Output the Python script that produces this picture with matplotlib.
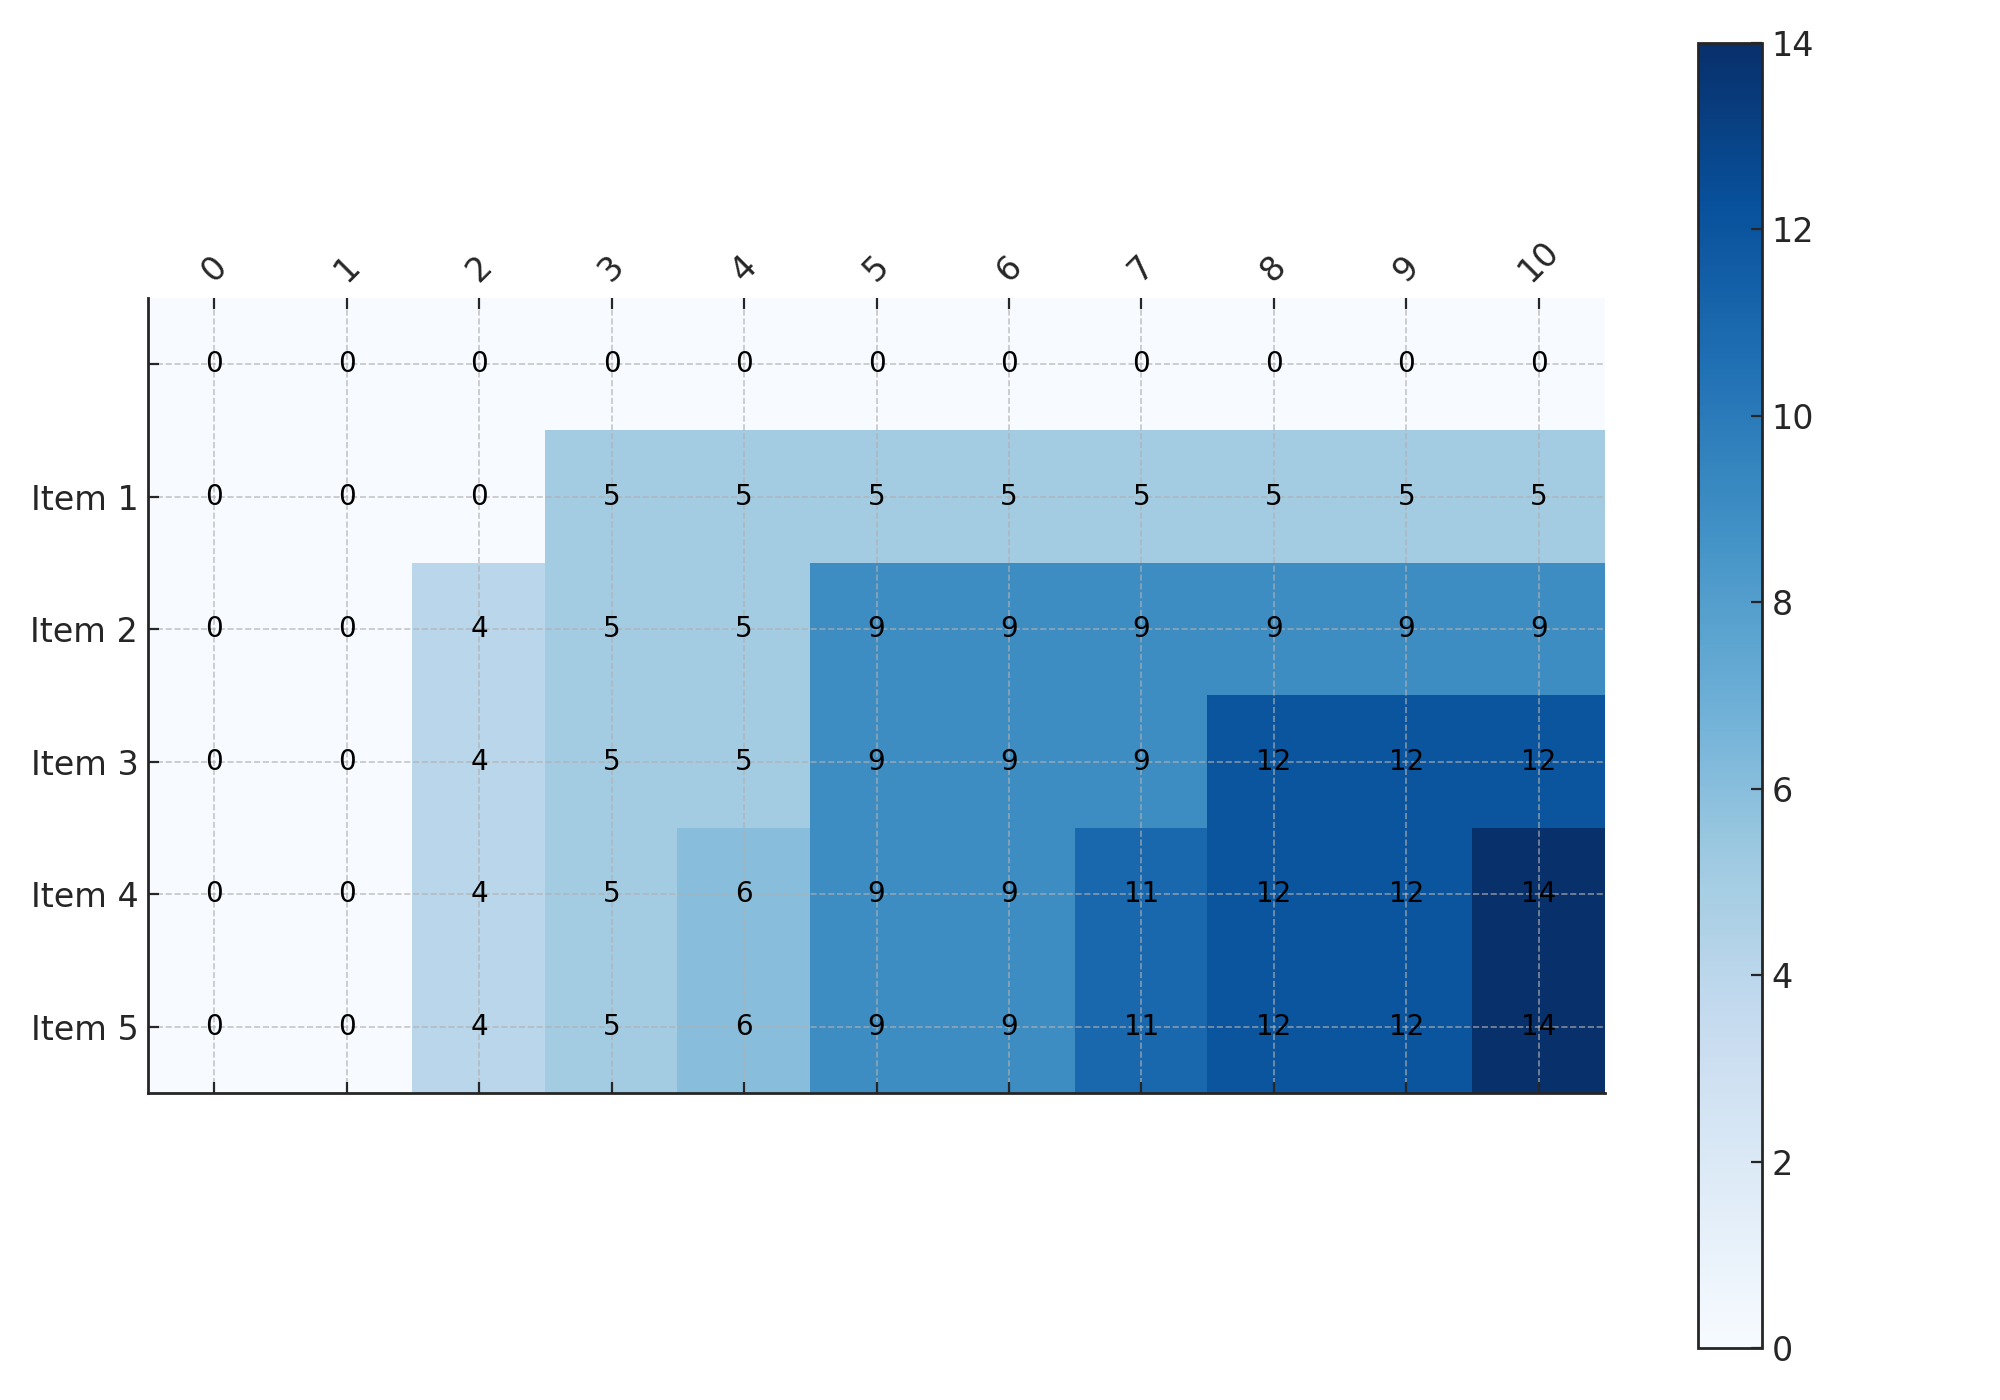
import numpy as np
import matplotlib
matplotlib.use("Agg")
import matplotlib.pyplot as plt

capacities = list(range(11))
row_labels = ["", "Item 1", "Item 2", "Item 3", "Item 4", "Item 5"]
row0 = [0, 0, 0, 0, 0, 0, 0, 0, 0, 0, 0]
row1 = [0, 0, 0, 5, 5, 5, 5, 5, 5, 5, 5]
row2 = [0, 0, 4, 5, 5, 9, 9, 9, 9, 9, 9]
row3 = [0, 0, 4, 5, 5, 9, 9, 9, 12, 12, 12]
row4 = [0, 0, 4, 5, 6, 9, 9, 11, 12, 12, 14]
row5 = [0, 0, 4, 5, 6, 9, 9, 11, 12, 12, 14]

table = np.array([row0, row1, row2, row3, row4, row5])

plt.rcParams['font.family'] = ['DejaVu Sans']
text_color = '#262626'

fig = plt.figure(figsize=(10, 7), dpi=200)
W, H = 2000, 1400
ax = fig.add_axes([148 / W, 1 - 1093 / H, 1457 / W, 795 / H])
im = ax.imshow(table, cmap='Blues', vmin=0, vmax=14, aspect='auto', interpolation='nearest')

ax.set_xticks(range(len(capacities)))
ax.set_xticklabels([str(c) for c in capacities], rotation=45, fontsize=12, color=text_color)
ax.set_yticks(range(len(row_labels)))
ax.set_yticklabels(row_labels, fontsize=12, color=text_color)
ax.xaxis.tick_top()
ax.tick_params(axis='x', which='both', top=True, bottom=True, labeltop=True, labelbottom=False,
               direction='in', length=3.8, width=0.8, color=text_color)
ax.tick_params(axis='y', which='both', left=True, right=False, direction='in', length=3.8,
               width=0.8, color=text_color)

for s in ['top', 'right']:
    ax.spines[s].set_visible(False)
for s in ['left', 'bottom']:
    ax.spines[s].set_linewidth(1.0)
    ax.spines[s].set_color(text_color)

ax.grid(True, linestyle='--', color='#b0b0b0', alpha=0.7, linewidth=0.6)
ax.set_axisbelow(False)

for i in range(table.shape[0]):
    for j in range(table.shape[1]):
        ax.text(j, i, str(table[i, j]), ha='center', va='center', fontsize=10, color='black')

cax = fig.add_axes([1698 / W, 1 - 1348 / H, 64 / W, 1305 / H])
cb = fig.colorbar(im, cax=cax)
cb.set_ticks([0, 2, 4, 6, 8, 10, 12, 14])
cb.ax.tick_params(labelsize=12, direction='in', length=3.8, width=0.8, colors=text_color)
cb.outline.set_linewidth(1.0)
cb.outline.set_edgecolor(text_color)

fig.savefig('out.png', dpi=200)
